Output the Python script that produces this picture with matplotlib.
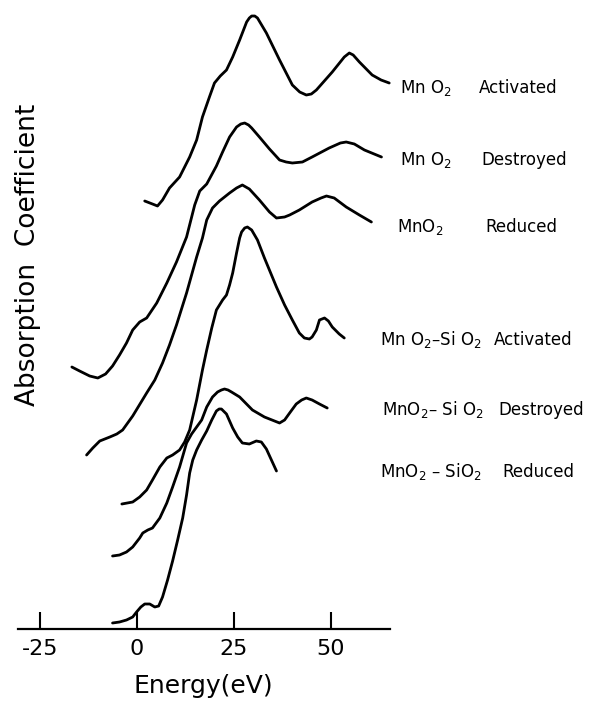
import matplotlib
matplotlib.use("Agg")
import matplotlib.pyplot as plt

plt.rcParams['font.family'] = ['DejaVu Sans']
plt.rcParams['mathtext.default'] = 'regular'
plt.rcParams['axes.unicode_minus'] = False

# energy (eV) and absorption (arbitrary units, curves offset as in the original)
e_mno2_act = [2.0, 4.0, 5.3, 6.6, 8.4, 11.0, 13.6, 15.4, 16.9, 18.7, 20.0, 21.5, 23.1,
              24.7, 26.5, 27.5, 28.3, 29.0, 29.6, 30.4, 31.1, 33.4, 36.8, 40.1, 42.0,
              43.7, 45.0, 46.3, 50.4, 53.5, 54.8, 55.8, 57.4, 60.7, 63.0, 65.1]
a_mno2_act = [428, 425, 423, 429, 441, 452, 472, 489, 512, 532, 546, 553, 559,
              572, 589, 599, 607, 611, 613, 613, 611, 596, 569, 544, 537,
              534, 535, 539, 557, 572, 576, 574, 567, 554, 549, 546]

e_mno2_des = [-16.8, -14.8, -12.2, -10.1, -8.1, -6.3, -4.5, -2.7, -1.1, 0.7, 2.5, 5.1,
              7.7, 10.2, 12.8, 14.9, 16.2, 18.0, 20.5, 22.1, 23.9, 25.7, 26.8, 27.8,
              28.8, 29.6, 31.6, 34.2, 36.8, 38.5, 40.1, 42.7, 45.2, 49.6, 52.5, 54.0,
              56.1, 58.7, 63.1]
a_mno2_des = [262, 258, 253, 251, 255, 263, 274, 286, 299, 307, 311, 326,
              346, 367, 392, 424, 438, 445, 463, 477, 492, 502, 505, 506,
              504, 501, 492, 480, 469, 467, 466, 467, 472, 481, 486, 487,
              485, 479, 472]

e_mno2_red = [-13.0, -11.4, -9.6, -7.0, -5.2, -3.7, -1.1, 2.5, 4.6, 6.6, 8.4, 10.2,
              12.8, 15.4, 16.9, 18.0, 19.5, 21.3, 23.9, 25.7, 27.2, 29.0, 31.6, 34.2,
              36.0, 38.1, 39.4, 41.9, 45.2, 47.5, 48.9, 50.9, 54.0, 57.4, 60.5]
a_mno2_red = [174, 181, 188, 192, 195, 199, 213, 236, 249, 266, 284, 304,
              336, 372, 391, 409, 421, 428, 436, 441, 444, 440, 429, 417,
              411, 412, 414, 419, 427, 431, 433, 431, 422, 414, 407]

e_si_act = [-3.9, -1.1, 0.7, 2.5, 4.0, 5.9, 7.7, 9.2, 11.0, 12.3, 13.6, 15.4, 16.9,
            18.0, 19.3, 20.5, 22.1, 23.1, 23.9, 24.7, 25.7, 26.5, 27.0, 27.8, 28.5,
            29.6, 31.1, 32.9, 36.0, 38.1, 40.1, 41.9, 43.2, 44.5, 45.2, 46.3, 47.1,
            48.4, 49.4, 50.4, 52.2, 53.5]
a_si_act = [125, 127, 132, 139, 149, 162, 171, 174, 179, 187, 199, 229, 259,
            279, 301, 319, 329, 334, 344, 356, 376, 391, 397, 401, 402,
            399, 389, 371, 342, 324, 309, 296, 291, 290, 292, 299, 309,
            311, 308, 302, 295, 291]

e_si_des = [-6.3, -4.5, -2.7, -1.1, 0.7, 1.5, 2.8, 4.0, 5.9, 7.7, 9.2, 11.0, 12.8,
            14.1, 15.4, 16.7, 18.0, 19.5, 20.8, 21.8, 22.6, 23.5, 24.4, 26.5, 29.8,
            32.9, 36.8, 38.1, 39.4, 41.1, 42.5, 43.7, 45.2, 47.1, 49.1]
a_si_des = [73, 74, 77, 82, 91, 96, 99, 101, 111, 126, 142, 162, 186,
            195, 202, 209, 222, 232, 237, 239, 240, 239, 237, 232, 219,
            212, 206, 209, 216, 225, 229, 231, 229, 225, 221]

e_si_red = [-6.3, -4.5, -2.7, -1.1, -0.1, 1.0, 2.0, 3.3, 4.6, 5.6, 6.6, 7.9, 9.2,
            10.5, 11.8, 12.8, 13.6, 14.4, 15.4, 16.7, 18.0, 19.3, 20.5, 21.2, 21.8,
            23.1, 24.7, 26.0, 27.2, 29.0, 30.8, 32.1, 33.4, 34.7, 36.0]
a_si_red = [6, 7, 9, 12, 17, 22, 25, 25, 22, 23, 32, 49, 68,
            89, 111, 134, 156, 169, 179, 189, 198, 209, 218, 220, 220,
            215, 201, 192, 186, 185, 188, 187, 180, 169, 158]

xticks = [-25, 0, 25, 50]

fig = plt.figure(figsize=(5.89, 7.01), dpi=100)
ax = fig.add_axes([18 / 589, 72 / 701, 372 / 589, 629 / 701])

for e, a in [(e_mno2_act, a_mno2_act), (e_mno2_des, a_mno2_des),
             (e_mno2_red, a_mno2_red), (e_si_act, a_si_act),
             (e_si_des, a_si_des), (e_si_red, a_si_red)]:
    ax.plot(e, a, color='black', lw=2.0, clip_on=False,
            solid_joinstyle='round', solid_capstyle='round')

ax.set_xlim(-30.7, 65.3)
ax.set_ylim(0, 629)
for s in ['top', 'right', 'left']:
    ax.spines[s].set_visible(False)
ax.spines['bottom'].set_linewidth(1.6)
ax.set_yticks([])
ax.set_xticks(xticks)
ax.set_xticklabels([str(t) for t in xticks])
ax.tick_params(axis='x', direction='in', length=12, width=1.5, pad=7,
               labelsize=16)

fig.text(203 / 589, 1 - 686 / 701, 'Energy(eV)', fontsize=18,
         ha='center', va='center')
fig.text(28 / 589, 1 - 255 / 701, 'Absorption  Coefficient', fontsize=19,
         rotation=90, ha='center', va='center')

labels = [
    (400, 93, 'Mn O$_2$', 479, 'Activated'),
    (400, 165, 'Mn O$_2$', 481, 'Destroyed'),
    (397, 232, 'MnO$_2$', 485, 'Reduced'),
    (380, 345, 'Mn O$_2$–Si O$_2$', 494, 'Activated'),
    (382, 415, 'MnO$_2$– Si O$_2$', 498, 'Destroyed'),
    (380, 477, 'MnO$_2$ – SiO$_2$', 502, 'Reduced'),
]
for x1, yb, t1, x2, t2 in labels:
    fig.text(x1 / 589, 1 - yb / 701, t1, fontsize=12, va='baseline')
    fig.text(x2 / 589, 1 - yb / 701, t2, fontsize=12, va='baseline')

fig.savefig('out.png', dpi=100)
